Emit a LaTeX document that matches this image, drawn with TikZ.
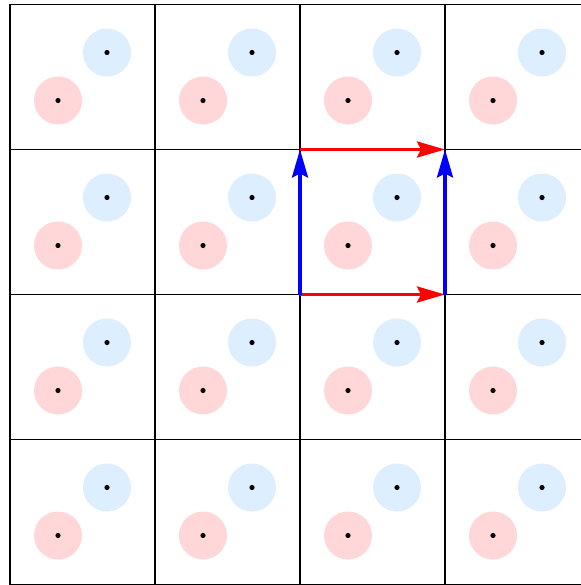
\documentclass[tikz,border=0pt]{standalone}
\usetikzlibrary{arrows.meta}
\definecolor{pinkfill}{HTML}{FFD7D9}
\definecolor{bluefill}{HTML}{DDEEFF}
\tikzset{
  gridline/.style={black, line width=1.1pt},
  redsite/.style={fill=pinkfill},
  bluesite/.style={fill=bluefill},
  dotmark/.style={fill=black},
  hopred/.style={red, line width=2.5pt, -{Stealth[length=21pt,width=12pt,inset=3pt]}},
  hopblue/.style={blue, line width=2.5pt, -{Stealth[length=21pt,width=12pt,inset=3pt]}}
}
\begin{document}
\begin{tikzpicture}[x=0.75pt,y=-0.75pt]
\useasboundingbox (0,0) rectangle (581,585);
\clip (0,0) rectangle (581,585);
\fill[white] (0,0) rectangle (581,585);
\foreach \i in {0,...,3}{
  \foreach \j in {0,...,3}{
    \pgfmathsetmacro\cx{10+145*\i}
    \pgfmathsetmacro\cy{4.5+145*\j}
    \fill[redsite] (\cx+48,\cy+96) circle (24);
    \fill[bluesite] (\cx+97,\cy+48) circle (24);
    \fill[dotmark] (\cx+48,\cy+96) circle (2.6);
    \fill[dotmark] (\cx+97,\cy+48) circle (2.6);
  }
}
\foreach \i in {0,...,4}{
  \draw[gridline] (10+145*\i,4.5) -- (10+145*\i,584.5);
  \draw[gridline] (10,4.5+145*\i) -- (600,4.5+145*\i);
}
\coordinate (A) at (300,294.5);
\coordinate (B) at (445,294.5);
\coordinate (C) at (445,149.5);
\coordinate (D) at (300,149.5);
\draw[hopred] (A) -- (B);
\draw[hopred] (D) -- (C);
\draw[hopblue] (A) -- (D);
\draw[hopblue] (B) -- (C);
\end{tikzpicture}
\end{document}
